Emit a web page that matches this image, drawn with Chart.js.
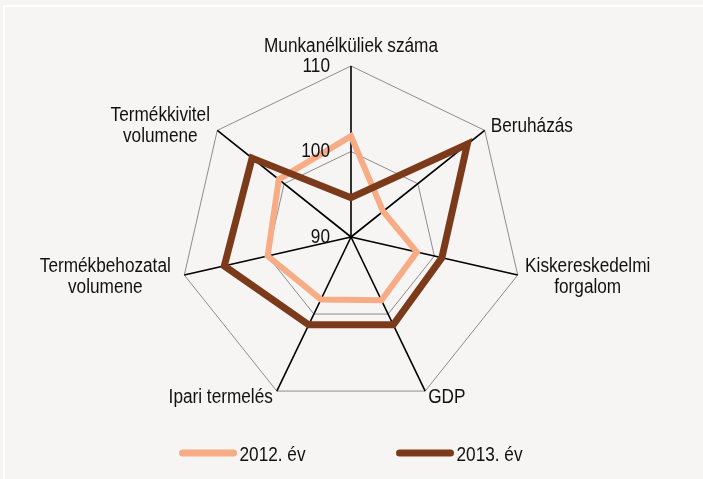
<!DOCTYPE html>
<html>
<head>
<meta charset="utf-8">
<script src="https://cdn.jsdelivr.net/npm/chart.js@4.4.0/dist/chart.umd.min.js"></script>
<style>
body { margin: 0; background: #f6f5f3; }
#wrap { position: relative; width: 703px; height: 479px; }
#frame { position: absolute; left: 3px; top: 5px; right: 0; bottom: 0; border-left: 2px solid #fff; border-top: 2px solid #fff; }
#chartPlace { position: absolute; left: 0; top: 0; }
</style>
</head>
<body>
<div id="wrap">
<div id="frame"></div>
<canvas id="chartPlace" width="703" height="479"></canvas>
</div>
<script>
var arrLabels = ['Munkanélküliek száma', 'Beruházás', ['Kiskereskedelmi', 'forgalom'], 'GDP', 'Ipari termelés', ['Termékbehozatal', 'volumene'], ['Termékkivitel', 'volumene']];
var arr2012 = [101.8, 94.8, 97.9, 98.2, 98.1, 100.0, 100.8];
var arr2013 = [94.6, 107.4, 100.9, 101.4, 101.4, 105.2, 104.8];
var arrTicks = [90, 100, 110];
var arrSeries = ['2012. év', '2013. év'];

var fontMain = '20px "Liberation Sans", Arial, sans-serif';
var squeeze = 0.86; // the original text is a narrow face

// where each point label sits relative to its outer vertex
var labelPos = [
	{ align: 'center', dx: 0, dy: -14 },
	{ align: 'left', dx: 6, dy: 2 },
	{ align: 'center', dx: 70, dy: -3 },
	{ align: 'left', dx: 3, dy: 12 },
	{ align: 'right', dx: -4, dy: 12 },
	{ align: 'center', dx: -79, dy: -3 },
	{ align: 'center', dx: -57, dy: -9 }
];

function narrowText(ctx, text, x, y) {
	ctx.save();
	ctx.translate(x, y);
	ctx.scale(squeeze, 1);
	ctx.fillText(text, 0, 0);
	ctx.restore();
}

var textPlugin = {
	id: 'textPlugin',
	afterDraw: function (chart) {
		var ctx = chart.ctx;
		var scale = chart.scales.r;
		ctx.save();
		ctx.font = fontMain;
		ctx.fillStyle = '#111';
		/* point labels */
		for (var i = 0; i < arrLabels.length; i++) {
			var p = scale.getPointPosition(i, scale.drawingArea);
			var lines = Array.isArray(arrLabels[i]) ? arrLabels[i] : [arrLabels[i]];
			ctx.textAlign = labelPos[i].align;
			ctx.textBaseline = 'alphabetic';
			for (var j = 0; j < lines.length; j++) {
				narrowText(ctx, lines[j], p.x + labelPos[i].dx, p.y + labelPos[i].dy + j * 21);
			}
		}
		/* tick labels */
		ctx.textAlign = 'right';
		ctx.textBaseline = 'middle';
		for (var t = 0; t < arrTicks.length; t++) {
			var d = scale.getDistanceFromCenterForValue(arrTicks[t]);
			narrowText(ctx, String(arrTicks[t]), scale.xCenter - 21, scale.yCenter - d);
		}
		/* legend */
		var lineW = 57;
		var gap = 91;
		var widths = [];
		var total = 0;
		for (var k = 0; k < arrSeries.length; k++) {
			widths.push(lineW + 3 + ctx.measureText(arrSeries[k]).width * squeeze);
			total += widths[k];
		}
		total += gap * (arrSeries.length - 1);
		var x = scale.xCenter - total / 2;
		ctx.textAlign = 'left';
		ctx.textBaseline = 'alphabetic';
		for (var k = 0; k < arrSeries.length; k++) {
			var ds = chart.data.datasets[k];
			ctx.strokeStyle = ds.borderColor;
			ctx.lineWidth = 7;
			ctx.lineCap = 'round';
			ctx.beginPath();
			ctx.moveTo(x + 3, 453);
			ctx.lineTo(x + lineW - 3, 453);
			ctx.stroke();
			narrowText(ctx, arrSeries[k], x + lineW + 3, 461);
			x += widths[k] + gap;
		}
		ctx.restore();
	}
};

var chartPlace = document.getElementById('chartPlace').getContext('2d');
var chartRadar = new Chart(chartPlace, {
	type: 'radar',
	data: {
		labels: arrLabels,
		datasets: [{
			label: arrSeries[0],
			data: arr2012,
			borderColor: '#f7ac85',
			borderWidth: 6,
			borderJoinStyle: 'miter',
			fill: false,
			pointRadius: 0,
			order: 1
		}, {
			label: arrSeries[1],
			data: arr2013,
			borderColor: '#7b3b1b',
			borderWidth: 7,
			borderJoinStyle: 'miter',
			fill: false,
			pointRadius: 0,
			order: 0
		}]
	},
	options: {
		responsive: false,
		animation: false,
		layout: { padding: { top: 66, bottom: 71, left: 0, right: 1 } },
		plugins: {
			legend: { display: false },
			tooltip: { enabled: false }
		},
		scales: {
			r: {
				min: 90,
				max: 110,
				ticks: { display: false, stepSize: 10 },
				pointLabels: { display: false },
				grid: { color: '#8c8c8c', lineWidth: 1 },
				angleLines: { color: '#000', lineWidth: 1.6 }
			}
		}
	},
	plugins: [textPlugin]
});
</script>
</body>
</html>
